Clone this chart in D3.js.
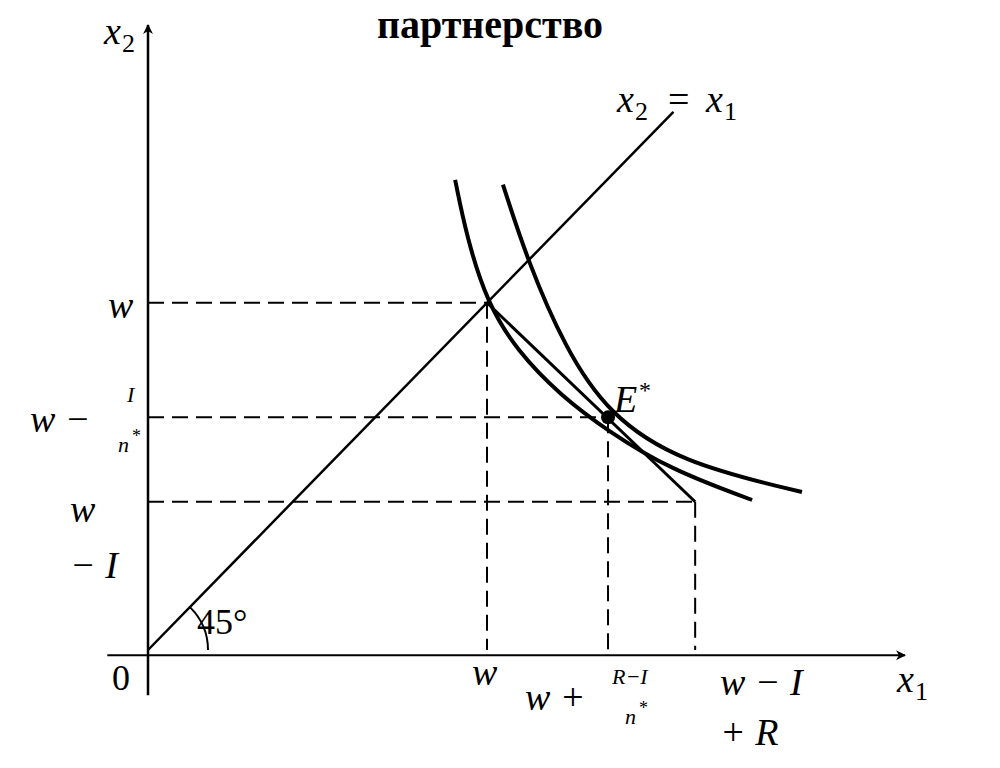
<!DOCTYPE html>
<html><head><meta charset="utf-8">
<script src="https://cdn.jsdelivr.net/npm/d3@7"></script>
<style>body{margin:0;background:#fff}</style></head>
<body><svg id="c" width="1000" height="768"></svg>
<script>
const W = 10, WmIn = 6.7, WmI = 4.27, Ex = 13.57, WIR = 16.14;
const diag = [[0,0],[15.5,15.5]];
const curve1 = [[9.06,13.54],[9.4,11.9],[10,10],[10.9,8.6],[12.15,7.35],[13.57,6.3],[15.4,5.2],[17.82,4.32]];
const curve2 = [[10.47,13.4],[11.2,11.2],[12.3,8.7],[13.57,6.8],[15.69,5.4],[19.29,4.55]];
const budget = [[W,W],[WIR,WmI]];

const svg = d3.select("#c");
const x = d3.scaleLinear().domain([0,22.33]).range([148,905]);
const y = d3.scaleLinear().domain([0,18]).range([650,25]);
const line = d3.line().x(d=>x(d[0])).y(d=>y(d[1]));
const sm = d3.line().x(d=>x(d[0])).y(d=>y(d[1])).curve(d3.curveBasis);

const defs = svg.append("defs");
defs.append("marker").attr("id","ar").attr("viewBox","0 0 10 10").attr("refX",9).attr("refY",5)
 .attr("markerWidth",14).attr("markerHeight",10).attr("orient","auto").attr("markerUnits","userSpaceOnUse")
 .append("path").attr("d","M0,0 L10,5 L0,10 L3,5 Z").attr("fill","#000");

svg.append("line").attr("x1",x(0)).attr("y1",y(-1.3)).attr("x2",x(0)).attr("y2",y(18)).attr("stroke","#000").attr("stroke-width",2.5).attr("marker-end","url(#ar)");
svg.append("line").attr("x1",x(-1.2)).attr("y1",y(-0.15)).attr("x2",x(22.33)).attr("y2",y(-0.15)).attr("stroke","#000").attr("stroke-width",2).attr("marker-end","url(#ar)");

const dash = [[[0,W],[W,W]],[[W,W],[W,0]],[[0,WmIn],[Ex,WmIn]],[[Ex,WmIn],[Ex,0]],[[0,WmI],[WIR,WmI]],[[WIR,WmI],[WIR,0]]];
dash.forEach(d=>svg.append("path").attr("d",line(d)).attr("fill","none").attr("stroke","#000").attr("stroke-width",2).attr("stroke-dasharray","16,8"));

svg.append("path").attr("d",line(diag)).attr("fill","none").attr("stroke","#000").attr("stroke-width",2.5);
svg.append("path").attr("d",line(budget)).attr("fill","none").attr("stroke","#000").attr("stroke-width",3);
[curve1,curve2].forEach(c=>svg.append("path").attr("d",sm(c)).attr("fill","none").attr("stroke","#000").attr("stroke-width",4));
svg.append("circle").attr("cx",x(Ex)).attr("cy",y(WmIn)).attr("r",7).attr("fill","#000");

svg.append("path").attr("d",`M${x(0)+60},${y(0)} A60,60 0 0 0 ${x(0)+42.4},${y(0)-42.4}`).attr("fill","none").attr("stroke","#000").attr("stroke-width",2);

const T = (t,px,py,o={})=>svg.append("text").attr("x",px).attr("y",py).attr("font-family","Liberation Serif, DejaVu Serif, serif")
 .attr("font-size",o.s||38).attr("font-style",o.i===false?"normal":"italic").attr("font-weight",o.b?"bold":"normal")
 .attr("text-anchor",o.a||"start").text(t);

T("партнерство",490,38,{s:40,b:true,i:false,a:"middle"});
T("x",104,44);T("2",122,52,{s:26,i:false});
T("x",617,112);T("2",635,120,{s:26,i:false});T("=",668,112,{i:false});T("x",706,112);T("1",724,120,{s:26,i:false});
T("x",897,692);T("1",915,700,{s:26,i:false});
T("0",112,690,{i:false,s:36});
T("45°",197,634,{i:false,s:36});
T("E",614,412);T("*",639,398,{s:24,i:false});
T("w",108,318);
T("w −",30,432);T("I",127,402,{s:22});T("n",118,452,{s:22});T("*",132,442,{s:18,i:false});
T("w",70,522);T("− I",70,578);
T("w",472,685);
T("w +",525,710);T("R−I",612,684,{s:22});T("n",625,724,{s:22});T("*",639,714,{s:18,i:false});
T("w − I",720,695);T("+ R",720,745);
</script></body></html>
